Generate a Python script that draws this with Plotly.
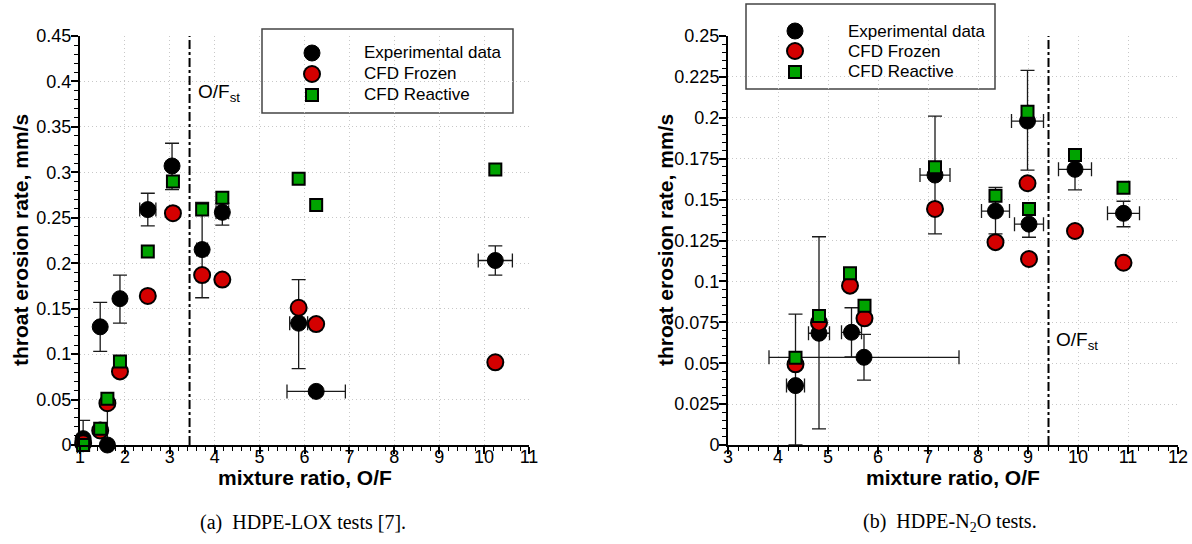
import plotly.graph_objects as go

# ---------------- HDPE-LOX tests ----------------
lox_exp_x = [1.07, 1.45, 1.61, 1.89, 2.51, 3.05, 3.72, 4.17, 5.87, 6.26, 10.25]
lox_exp_y = [0.007, 0.130, 0.0, 0.161, 0.259, 0.307, 0.215, 0.256, 0.134, 0.059, 0.203]
lox_exp_yerr_hi = [0.020, 0.027, 0.045, 0.026, 0.018, 0.025, 0.052, 0.010, 0.048, 0.0, 0.016]
lox_exp_yerr_lo = [0.007, 0.027, 0.0, 0.027, 0.018, 0.026, 0.053, 0.014, 0.050, 0.0, 0.016]
lox_exp_xerr = [0.08, 0.0, 0.0, 0.0, 0.18, 0.0, 0.12, 0.14, 0.20, 0.65, 0.38]

lox_cfd_x = [1.07, 1.45, 1.61, 1.89, 2.51, 3.07, 3.72, 4.17, 5.87, 6.26, 10.25]
lox_frozen_y = [0.002, 0.016, 0.046, 0.081, 0.164, 0.255, 0.187, 0.182, 0.151, 0.133, 0.091]
lox_reactive_y = [0.0, 0.018, 0.051, 0.092, 0.213, 0.290, 0.259, 0.272, 0.293, 0.264, 0.303]
lox_of_st = 3.44

# ---------------- HDPE-N2O tests ----------------
n2o_exp_x = [4.35, 4.82, 5.47, 5.72, 7.14, 8.35, 8.99, 9.02, 9.94, 10.91]
n2o_exp_y = [0.0363, 0.0683, 0.0689, 0.0536, 0.165, 0.143, 0.198, 0.135, 0.1685, 0.1416]
n2o_exp_yerr_hi = [0.0437, 0.059, 0.015, 0.014, 0.036, 0.0145, 0.031, 0.010, 0.012, 0.0074]
n2o_exp_yerr_lo = [0.0363, 0.0585, 0.015, 0.014, 0.036, 0.014, 0.030, 0.008, 0.0126, 0.0082]
n2o_exp_xerr = [0.18, 0.21, 0.20, 1.90, 0.30, 0.28, 0.32, 0.29, 0.33, 0.32]

n2o_cfd_x = [4.35, 4.82, 5.44, 5.73, 7.14, 8.35, 8.99, 9.02, 9.94, 10.91]
n2o_frozen_y = [0.0493, 0.0748, 0.0974, 0.0774, 0.1443, 0.124, 0.160, 0.1137, 0.1308, 0.1114]
n2o_reactive_y = [0.0534, 0.0789, 0.105, 0.0851, 0.1697, 0.1524, 0.2037, 0.1443, 0.1773, 0.1573]
n2o_of_st = 9.41

series_names = ["Experimental data", "CFD Frozen", "CFD Reactive"]

W, H = 1192, 544
SANS = "Liberation Sans, Arial, Helvetica, sans-serif"
SERIF = "Liberation Serif, Times New Roman, serif"
RED = "#d40000"
GREEN = "#00a300"


def px(v):
    return v / W


def py(v):
    return 1 - v / H


fig = go.Figure()


def add_panel(xa, ya, ex, ey, ehi, elo, exerr, cx, fy, ry):
    # error bars of the measurements
    fig.add_trace(go.Scatter(
        x=ex, y=ey, mode="markers", xaxis=xa, yaxis=ya, showlegend=False,
        marker=dict(size=1, color="rgba(0,0,0,0)"), cliponaxis=False, hoverinfo="skip",
        error_y=dict(type="data", symmetric=False, array=ehi, arrayminus=elo,
                     color="#1a1a1a", thickness=1.3, width=7),
        error_x=dict(type="data", array=exerr, color="#1a1a1a", thickness=1.3, width=7),
    ))
    fig.add_trace(go.Scatter(
        x=ex, y=ey, mode="markers", name=series_names[0], xaxis=xa, yaxis=ya,
        showlegend=False, cliponaxis=False,
        marker=dict(symbol="circle", size=16, color="black", line=dict(color="black", width=1)),
    ))
    fig.add_trace(go.Scatter(
        x=cx, y=fy, mode="markers", name=series_names[1], xaxis=xa, yaxis=ya,
        showlegend=False, cliponaxis=False,
        marker=dict(symbol="circle", size=16, color=RED, line=dict(color="black", width=2)),
    ))
    fig.add_trace(go.Scatter(
        x=cx, y=ry, mode="markers", name=series_names[2], xaxis=xa, yaxis=ya,
        showlegend=False, cliponaxis=False,
        marker=dict(symbol="square", size=12, color=GREEN, line=dict(color="black", width=2)),
    ))


add_panel("x", "y", lox_exp_x, lox_exp_y, lox_exp_yerr_hi, lox_exp_yerr_lo,
          lox_exp_xerr, lox_cfd_x, lox_frozen_y, lox_reactive_y)
add_panel("x2", "y2", n2o_exp_x, n2o_exp_y, n2o_exp_yerr_hi, n2o_exp_yerr_lo,
          n2o_exp_xerr, n2o_cfd_x, n2o_frozen_y, n2o_reactive_y)

axis_common = dict(
    showline=True, linecolor="black", linewidth=2, mirror=False, automargin=False,
    ticks="outside", ticklen=7, tickwidth=1.5, tickcolor="black",
    showgrid=True, gridcolor="#c8c8c8", griddash="1px,3px", gridwidth=1,
    zeroline=False, tickfont=dict(family=SANS, size=18, color="black"),
)


def minor(step):
    return dict(dtick=step, ticks="outside", ticklen=4, tickwidth=1, tickcolor="black",
                showgrid=False)


y_dom = [py(445), py(36)]
fig.update_layout(
    width=W, height=H, margin=dict(l=0, r=0, t=0, b=0, autoexpand=False),
    paper_bgcolor="white", plot_bgcolor="white", showlegend=False,
    font=dict(family=SANS, color="black"),
    xaxis=dict(domain=[px(80), px(529)], range=[1, 11], dtick=1, anchor="y",
               minor=minor(0.2), ticklabelstandoff=-13, **axis_common),
    yaxis=dict(domain=y_dom, range=[0, 0.45], dtick=0.05, anchor="x",
               minor=minor(0.01), ticklabelstandoff=-4, **axis_common),
    xaxis2=dict(domain=[px(728), px(1178)], range=[3, 12], dtick=1, anchor="y2",
                minor=minor(0.2), ticklabelstandoff=-13, **axis_common),
    yaxis2=dict(domain=y_dom, range=[0, 0.25], dtick=0.025, anchor="x2",
                minor=minor(0.005), ticklabelstandoff=-4, **axis_common),
)

# stoichiometric mixture ratio lines
for xa, ya, xv in (("x", "y", lox_of_st), ("x2", "y2", n2o_of_st)):
    fig.add_shape(type="line", xref=xa, yref=ya + " domain", x0=xv, x1=xv, y0=0, y1=1,
                  line=dict(color="black", width=2, dash="dashdot"))

fig.add_annotation(x=lox_of_st, y=0.387, xref="x", yref="y", xanchor="left", yanchor="middle",
                   xshift=6, text="O/F<sub>st</sub>", showarrow=False,
                   font=dict(family=SANS, size=19, color="black"))
fig.add_annotation(x=n2o_of_st, y=0.0636, xref="x2", yref="y2", xanchor="left", yanchor="middle",
                   xshift=5, text="O/F<sub>st</sub>", showarrow=False,
                   font=dict(family=SANS, size=19, color="black"))


# legend boxes: frame, symbols and labels
def legend_box(x0, x1, y0, y1, sym_x, text_x, rows):
    fig.add_shape(type="rect", xref="paper", yref="paper", x0=px(x0), x1=px(x1),
                  y0=py(y1), y1=py(y0), line=dict(color="#444", width=1.5),
                  fillcolor="white", layer="below")
    r = 8
    fig.add_shape(type="circle", xref="paper", yref="paper",
                  x0=px(sym_x - r), x1=px(sym_x + r), y0=py(rows[0] + r), y1=py(rows[0] - r),
                  fillcolor="black", line=dict(color="black", width=1))
    fig.add_shape(type="circle", xref="paper", yref="paper",
                  x0=px(sym_x - r), x1=px(sym_x + r), y0=py(rows[1] + r), y1=py(rows[1] - r),
                  fillcolor=RED, line=dict(color="black", width=2))
    s = 6
    fig.add_shape(type="rect", xref="paper", yref="paper",
                  x0=px(sym_x - s), x1=px(sym_x + s), y0=py(rows[2] + s), y1=py(rows[2] - s),
                  fillcolor=GREEN, line=dict(color="black", width=2))
    for name, ry in zip(series_names, rows):
        fig.add_annotation(x=px(text_x), y=py(ry), xref="paper", yref="paper",
                           xanchor="left", yanchor="middle", showarrow=False, text=name,
                           font=dict(family=SANS, size=17, color="black"))


legend_box(262, 513, 29, 113, 312, 362, [53, 74, 95])
legend_box(746, 995, 4, 89, 795, 846, [31, 51, 72])

# axis titles
title_font = dict(family=SANS, size=21, color="black")
for xc in (305, 953):
    fig.add_annotation(x=px(xc), y=py(477), xref="paper", yref="paper", showarrow=False,
                       xanchor="center", yanchor="middle",
                       text="<b>mixture ratio, O/F</b>", font=title_font)
for xc in (20, 665):
    fig.add_annotation(x=px(xc), y=py(240), xref="paper", yref="paper", showarrow=False,
                       xanchor="center", yanchor="middle", textangle=-90,
                       text="<b>throat erosion rate, mm/s</b>", font=title_font)

# sub-captions
cap_font = dict(family=SERIF, size=20, color="black")
fig.add_annotation(x=px(303), y=py(522), xref="paper", yref="paper", showarrow=False,
                   xanchor="center", yanchor="middle",
                   text="(a)&nbsp;&nbsp;HDPE-LOX tests [7].", font=cap_font)
fig.add_annotation(x=px(950), y=py(522), xref="paper", yref="paper", showarrow=False,
                   xanchor="center", yanchor="middle",
                   text="(b)&nbsp;&nbsp;HDPE-N<sub>2</sub>O tests.", font=cap_font)

fig.write_html("out.html")
